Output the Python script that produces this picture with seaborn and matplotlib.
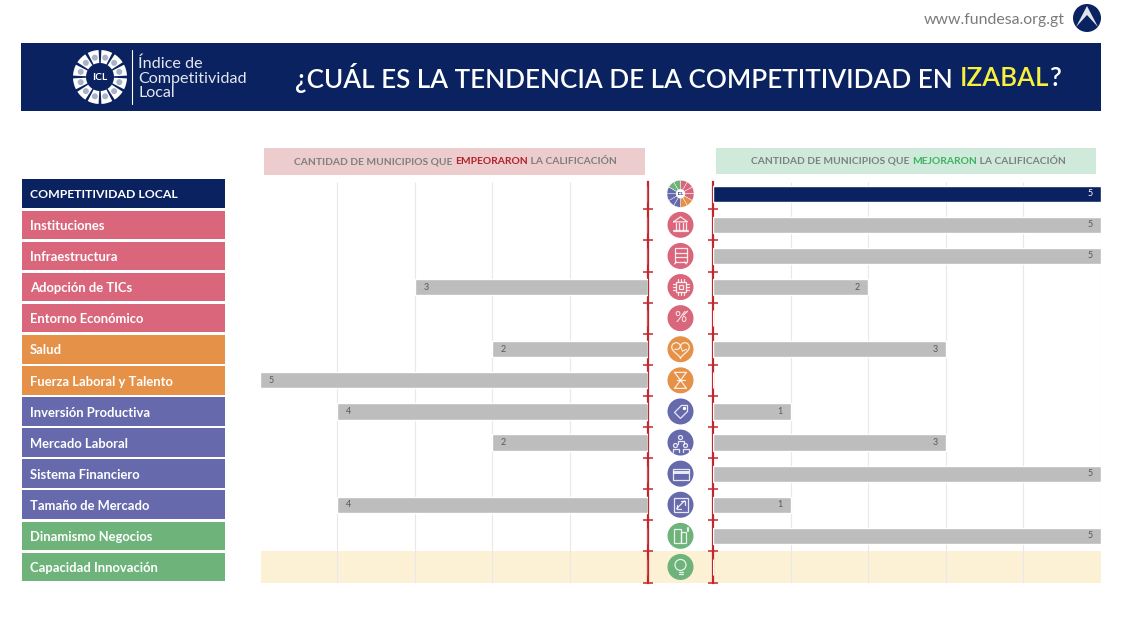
import numpy as np
import pandas as pd
import matplotlib
matplotlib.use('Agg')
import matplotlib.pyplot as plt
import seaborn as sns
from matplotlib.patches import Rectangle, Circle, Wedge, Polygon

categorias = ['COMPETITIVIDAD LOCAL', 'Instituciones', 'Infraestructura', 'Adopción de TICs',
              'Entorno Económico', 'Salud', 'Fuerza Laboral y Talento', 'Inversión Productiva',
              'Mercado Laboral', 'Sistema Financiero', 'Tamaño de Mercado', 'Dinamismo Negocios',
              'Capacidad Innovación']
empeoraron = [0, 0, 0, 3, 0, 2, 5, 4, 2, 0, 4, 0, 0]
mejoraron = [5, 5, 5, 2, 0, 3, 0, 1, 3, 5, 1, 5, 0]
grupos = ['total', 'rojo', 'rojo', 'rojo', 'rojo', 'naranja', 'naranja', 'morado', 'morado',
          'morado', 'morado', 'verde', 'verde']

NAVY = '#0a2260'
GRIS = '#bdbdbd'
ROJO_EJE = '#c1272d'
colores = {'total': NAVY, 'rojo': '#d9667a', 'naranja': '#e59148', 'morado': '#666aac', 'verde': '#6db37a'}

W, H = 1123, 618
Y0, PASO = 178.2, 31.1
sns.set_theme(style='white')
plt.rcParams['font.family'] = ['Lato', 'DejaVu Sans']

fig = plt.figure(figsize=(W / 100, H / 100), dpi=100, facecolor='white')
bg = fig.add_axes([0, 0, 1, 1], zorder=0)
bg.set_xlim(0, W)
bg.set_ylim(H, 0)
bg.axis('off')


def caja_color(x0, y0, x1, y1, color):
    bg.add_patch(Rectangle((x0, y0), x1 - x0, y1 - y0, fc=color, ec='none', lw=0))


def runs(x, y, partes, size, weight='normal'):
    # tramos de texto de distinto color, uno tras otro
    r = fig.canvas.get_renderer()
    for txt, color in partes:
        t = bg.text(x, y, txt, color=color, fontsize=size, fontweight=weight, va='center', ha='left')
        x += t.get_window_extent(r).width


def panel_barras(left, right, valores, invertir):
    ax = fig.add_axes([left / W, 1 - (Y0 + 13 * PASO) / H, (right - left) / W, 13 * PASO / H], zorder=1)
    df = pd.DataFrame({'categoria': categorias, 'valor': valores})
    paleta = {c: GRIS for c in categorias}
    if not invertir:
        paleta[categorias[0]] = NAVY
    ax.vlines(range(1, 5) if invertir else range(1, 6), -0.38, 12.5, color='#e8e8e8', lw=0.8, zorder=0)
    sns.barplot(data=df, y='categoria', x='valor', hue='categoria', palette=paleta, legend=False,
                width=0.52, saturation=1, orient='h', ax=ax, zorder=3)
    ax.set_xlim((5, 0) if invertir else (0, 5))
    ax.set_ylim(12.5, -0.5)
    ax.patch.set_alpha(0)
    ax.set_xticks([])
    ax.set_yticks([])
    ax.set_yticks(np.arange(0.5, 13), minor=True)
    ax.set_xlabel('')
    ax.set_ylabel('')
    for s in ax.spines.values():
        s.set_visible(False)
    lado = 'right' if invertir else 'left'
    ax.spines[lado].set_visible(True)
    ax.spines[lado].set_color(ROJO_EJE)
    ax.spines[lado].set_linewidth(1.6)
    ax.spines[lado].set_bounds(-0.38, 12.5)
    ax.tick_params(axis='y', which='minor', direction='inout', length=7, width=1.1, color=ROJO_EJE,
                   left=not invertir, right=invertir, labelleft=False)
    for i, v in enumerate(valores):
        if v > 0:
            col = 'white' if (i == 0 and not invertir) else '#595959'
            ax.annotate(str(v), (v, i), xytext=(6 if invertir else -6, 0), textcoords='offset points',
                        ha='left' if invertir else 'right', va='center', fontsize=6.5, color=col, zorder=4)
    return ax


def icono(i, cx, cy):
    kw = dict(color='white', lw=0.9, alpha=0.85, solid_capstyle='round')
    ep = dict(fill=False, ec='white', lw=0.9, alpha=0.85, zorder=5)
    def ln(xs, ys, **k):
        bg.plot([cx + a for a in xs], [cy + b for b in ys], **{**kw, **k}, zorder=5)
    def caja(x, y, w, h):
        bg.add_patch(Rectangle((cx + x, cy + y), w, h, **ep))
    if i == 1:
        ln([-7, 0, 7, -7], [-3, -8, -3, -3])
        for dx in (-5, -2, 2, 5):
            ln([dx, dx], [-2, 5])
        ln([-7, 7], [6, 6], lw=1.6)
    elif i == 2:
        caja(-6, -8, 12, 14)
        ln([-6, 6], [-3, -3])
        ln([-6, 6], [1, 1])
        ln([-4, -6], [6, 8])
        ln([4, 6], [6, 8])
    elif i == 3:
        caja(-5, -5, 10, 10)
        caja(-2, -2, 4, 4)
        for d in (-3, 0, 3):
            ln([d, d], [-8, -5])
            ln([d, d], [5, 8])
            ln([-8, -5], [d, d])
            ln([5, 8], [d, d])
    elif i == 4:
        bg.text(cx, cy, '%', color='white', alpha=0.85, fontsize=11, ha='center', va='center', zorder=5)
        ln([3, 7], [-3, -7])
    elif i == 5:
        t = np.linspace(0, 2 * np.pi, 60)
        ln(0.55 * 16 * np.sin(t) ** 3, -0.55 * (13 * np.cos(t) - 5 * np.cos(2 * t) - 2 * np.cos(3 * t) - np.cos(4 * t)))
        ln([-6, -2, 0, 2, 6], [0, 0, -3, 2, 0], lw=0.8)
    elif i == 6:
        ln([-6, 6, -6, 6, -6], [-8, -8, 8, 8, -8])
        ln([-4, 4], [0, 0])
    elif i == 7:
        bg.add_patch(Polygon([(cx - 6, cy + 1), (cx + 1, cy - 6), (cx + 7, cy - 6), (cx + 7, cy), (cx, cy + 7)],
                             closed=True, **ep))
        bg.add_patch(Circle((cx + 4, cy - 3), 1, color='white', zorder=5))
    elif i == 8:
        for dx, dy in ((0, -5), (-5, 3), (5, 3)):
            bg.add_patch(Circle((cx + dx, cy + dy), 2, **ep))
            ln([dx - 3, dx - 3, dx + 3, dx + 3], [dy + 6, dy + 3, dy + 3, dy + 6])
    elif i == 9:
        caja(-8, -5, 16, 11)
        bg.add_patch(Rectangle((cx - 8, cy - 3), 16, 3, fc='white', ec='none', alpha=0.85, zorder=5))
    elif i == 10:
        caja(-7, -7, 14, 14)
        ln([-4, 4], [4, -4])
        ln([0, 4, 4], [-4, -4, 0])
        ln([-4, -4, 0], [0, 4, 4])
    elif i == 11:
        caja(-7, -7, 7, 14)
        caja(0, -4, 5, 11)
        ln([7, 7], [-8, -5], lw=1.5)
    elif i == 12:
        bg.add_patch(Circle((cx, cy - 2), 5.5, **ep))
        ln([-2, 2], [5, 5])
        ln([-2, 2], [7.5, 7.5])


# franja superior y encabezado
runs(924, 20, [('www.fundesa.org.gt', '#7b7b7b')], 11.4)
bg.add_patch(Circle((1087, 18), 14, fc=NAVY, ec='none'))
bg.add_patch(Polygon([(1076, 27), (1087, 6), (1098, 27), (1087, 15)], closed=True, fc='#dfe3ec', ec='none'))
caja_color(21, 43, 1101, 111, NAVY)

for a in range(0, 360, 30):
    bg.add_patch(Wedge((100, 77), 27, a + 3, a + 27, width=13, fc='white', ec='none'))
    ang = np.deg2rad(a + 15)
    bg.add_patch(Circle((100 + 20 * np.cos(ang), 77 + 20 * np.sin(ang)), 3, fc='#aab2c6', ec='none'))
bg.text(100, 77.5, 'ICL', color='white', fontsize=7.5, fontweight='bold', ha='center', va='center')
bg.plot([132, 132], [50, 104], color='white', lw=0.8)
for linea, y in zip(['Índice de', 'Competitividad', 'Local'], [64, 79, 93]):
    bg.text(138, y, linea, color='#e4e7ef', fontsize=11.6, va='center', ha='left')
runs(295, 78, [('¿CUÁL ES LA TENDENCIA DE LA COMPETITIVIDAD EN ', 'white'), ('IZABAL', '#f7f03c'), ('?', 'white')], 18.7, 'semibold')

caja_color(264, 148, 645, 175, '#eccccd')
caja_color(716, 148, 1096, 174, '#cfeadb')
runs(294, 162, [('CANTIDAD DE MUNICIPIOS QUE ', '#7f7f7f'), ('EMPEORARON', '#b3202a'), (' LA CALIFICACIÓN', '#7f7f7f')], 7.35, 'bold')
runs(751, 161, [('CANTIDAD DE MUNICIPIOS QUE ', '#7f7f7f'), ('MEJORARON', '#3cb262'), (' LA CALIFICACIÓN', '#7f7f7f')], 7.35, 'bold')

# fila sin datos
caja_color(261, Y0 + 12 * PASO, 1101, Y0 + 13 * PASO, '#fcf1d4')

# etiquetas de la izquierda e iconos del centro
for i, (cat, g) in enumerate(zip(categorias, grupos)):
    yc = Y0 + (i + 0.5) * PASO
    caja_color(21.5, yc - 14.3, 224.5, yc + 14.3, colores[g])
    bg.text(30, yc + 1.2, cat, color='white', fontsize=8.8 if i == 0 else 9.4, fontweight='bold', va='center', ha='left')
    if i == 0:
        rueda = ['#d9667a'] * 4 + ['#e59148'] * 2 + ['#666aac'] * 4 + ['#6db37a'] * 2
        for k, col in enumerate(rueda):
            bg.add_patch(Wedge((680.5, yc), 13.5, 270 + k * 30, 300 + k * 30, width=9, fc=col, ec='white', lw=0.3))
        bg.text(680.5, yc, 'ICL', fontsize=3.2, fontweight='bold', color=NAVY, ha='center', va='center')
    else:
        bg.add_patch(Circle((680.5, yc), 13, fc=colores[g], ec='none', zorder=4))
        icono(i, 680.5, yc)

panel_barras(259.8, 647.5, empeoraron, True)
panel_barras(713, 1101, mejoraron, False)

fig.savefig('out.png', dpi=100)
